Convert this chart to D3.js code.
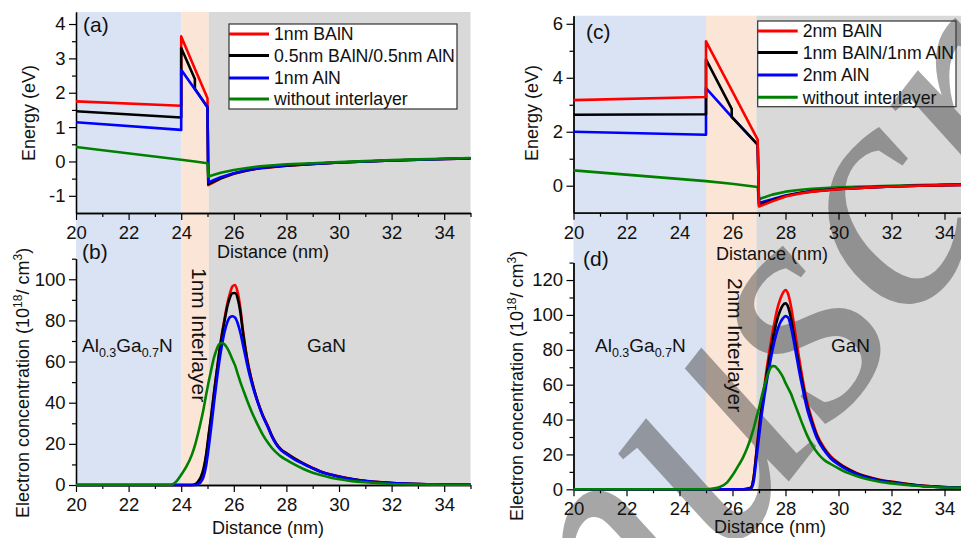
<!DOCTYPE html>
<html><head><meta charset="utf-8">
<script src="https://cdn.jsdelivr.net/npm/d3@7"></script>
<style>
body{margin:0;background:#fff;}
svg{display:block;font-family:"Liberation Sans",Arial,sans-serif;}
</style></head><body>
<svg id="c" width="961" height="538"></svg>
<script>
// ---------------- data ----------------
const seriesNamesA = ["1nm BAlN", "0.5nm BAlN/0.5nm AlN", "1nm AlN", "without interlayer"];
const seriesNamesC = ["2nm BAlN", "1nm BAlN/1nm AlN", "2nm AlN", "without interlayer"];
const regionsL = [20, 24, 25.05, 35];
const regionsR = [20, 25, 26.9, 35];
const xTicks = [20, 22, 24, 26, 28, 30, 32, 34];
const xMinor = [21, 23, 25, 27, 29, 31, 33, 35];
const yTicksA = [-1, 0, 1, 2, 3, 4];
const yMinorA = [-0.5, 0.5, 1.5, 2.5, 3.5];
const yTicksB = [0, 20, 40, 60, 80, 100];
const yMinorB = [10, 30, 50, 70, 90, 110];
const yTicksC = [0, 2, 4, 6];
const yMinorC = [1, 3, 5];
const yTicksD = [0, 20, 40, 60, 80, 100, 120];
const yMinorD = [10, 30, 50, 70, 90, 110, 130];

// (a) conduction band, 1 nm interlayer
const xA = [20, 24, 24, 24.52, 24.52, 25, 25.03, 25.5, 26, 26.5, 27, 28, 29, 30, 31, 32, 33, 34, 35];
const eRedA   = [1.75, 1.62, 3.64, 2.70, 2.70, 1.84, -0.69, -0.50, -0.36, -0.26, -0.20, -0.12, -0.07, -0.03, 0.00, 0.03, 0.05, 0.07, 0.09];
const eBlackA = [1.46, 1.28, 3.30, 2.40, 2.12, 1.58, -0.66, -0.49, -0.35, -0.26, -0.19, -0.12, -0.07, -0.03, 0.00, 0.03, 0.05, 0.07, 0.09];
const eBlueA  = [1.14, 0.92, 2.67, 2.10, 2.10, 1.58, -0.61, -0.46, -0.34, -0.25, -0.19, -0.11, -0.07, -0.03, 0.00, 0.03, 0.05, 0.07, 0.09];
const eGreenA = [0.42, 0.05, 0.05, 0.00, 0.00, -0.05, -0.44, -0.33, -0.25, -0.19, -0.14, -0.08, -0.05, -0.02, 0.01, 0.04, 0.06, 0.08, 0.10];

// (c) conduction band, 2 nm interlayer
const xC = [20, 25, 25, 25.97, 25.97, 26.95, 27.0, 27.5, 28, 28.5, 29, 30, 31, 32, 33, 34, 35];
const eRedC   = [3.17, 3.29, 5.35, 3.54, 3.54, 1.71, -0.77, -0.58, -0.40, -0.30, -0.22, -0.13, -0.07, -0.03, 0.00, 0.02, 0.04];
const eBlackC = [2.63, 2.65, 4.68, 2.85, 2.55, 1.52, -0.72, -0.55, -0.38, -0.28, -0.21, -0.12, -0.07, -0.03, 0.00, 0.02, 0.04];
const eBlueC  = [2.00, 1.89, 3.62, 2.55, 2.55, 1.52, -0.64, -0.50, -0.36, -0.27, -0.20, -0.12, -0.07, -0.03, 0.00, 0.02, 0.04];
const eGreenC = [0.57, 0.17, 0.17, 0.07, 0.07, -0.05, -0.50, -0.33, -0.22, -0.16, -0.11, -0.06, -0.03, 0.00, 0.02, 0.04, 0.06];

// (b) electron concentration, 1 nm interlayer
const xB = [20, 23.6, 23.8, 24.0, 24.2, 24.4, 24.55, 24.65, 24.75, 24.85, 24.95, 25.05, 25.15, 25.25, 25.35, 25.45, 25.55, 25.65, 25.75, 25.85, 25.95, 26.05, 26.15, 26.25, 26.35, 26.5, 26.6, 26.75, 26.9, 27.1, 27.3, 27.45, 27.6, 27.8, 28.0, 28.3, 28.65, 29.0, 29.3, 29.9, 30.5, 31.0, 32.0, 33.0, 34.0, 35.0];
const nRedB   = [0, 0, 0, 0, 0, 0, 0.3, 1.2, 3, 7, 14, 24.5, 34, 45, 55, 65, 73.5, 81, 88, 93, 96.5, 97.2, 93.5, 86, 75, 62, 55.5, 47.5, 41, 34, 28.5, 24, 20.5, 17.3, 15.5, 13, 10.5, 8.3, 6.6, 4.5, 2.9, 2.0, 1.0, 0.5, 0.3, 0.2];
const nBlackB = [0, 0, 0, 0, 0, 0, 0.5, 1.8, 4, 8, 15, 25, 34.5, 45, 55, 64.5, 73, 80, 86.5, 91, 93.2, 93.3, 90.5, 84, 74, 61.5, 55, 47.3, 40.8, 33.8, 28.3, 23.8, 20.3, 17.2, 15.4, 12.9, 10.4, 8.2, 6.5, 4.4, 2.85, 1.95, 1.0, 0.5, 0.3, 0.2];
const nBlueB  = [0, 0, 0, 0, 0, 0, 0, 0.5, 1.5, 4, 9.5, 18.5, 29, 40, 50.5, 60, 68, 74.5, 79, 81.5, 82, 81.3, 78.5, 74, 68, 59, 53.5, 46.5, 40.5, 33.5, 28, 23.5, 20, 16.8, 15, 12.5, 10.2, 8.1, 6.4, 4.3, 2.8, 1.9, 0.9, 0.45, 0.25, 0.15];
const nGreenB = [0, 0, 1.5, 5, 9, 14.5, 20.5, 25.5, 31, 37, 44, 50.5, 56.5, 62, 66, 68.5, 69, 68.3, 66.5, 64, 61, 58, 54, 50, 46.5, 41.3, 38, 33.5, 29.5, 24.5, 20.5, 18, 16, 13.8, 12.2, 10, 7.8, 6, 4.9, 3.0, 1.9, 1.3, 0.5, 0.25, 0.15, 0.1];

// (d) electron concentration, 2 nm interlayer
const xD = [20, 24.8, 25.2, 25.5, 25.8, 26.0, 26.2, 26.4, 26.55, 26.7, 26.8, 26.9, 27.0, 27.1, 27.2, 27.3, 27.4, 27.5, 27.6, 27.7, 27.8, 27.9, 28.0, 28.1, 28.2, 28.3, 28.4, 28.5, 28.65, 28.8, 29.0, 29.2, 29.45, 29.7, 30.0, 30.35, 30.7, 31.1, 31.6, 32.0, 32.9, 33.8, 35.0];
const nRedD   = [0, 0, 0, 0, 0, 0, 0, 0, 0.2, 1.0, 7, 21, 35, 48, 59, 70, 80, 89, 97, 104, 109, 112.5, 114.3, 112, 105.5, 96.5, 86.5, 76.5, 63, 51, 40, 31, 24, 19, 15.2, 11.8, 9.3, 7.2, 5.3, 4.4, 2.5, 1.5, 0.8];
const nBlackD = [0, 0, 0, 0, 0, 0, 0, 0, 0.3, 1.0, 7, 20.5, 34, 46.5, 57, 67, 76, 84.5, 92, 98, 102.5, 105.5, 106.6, 104.5, 98.5, 90, 81, 72, 60, 49, 38.5, 30, 23.3, 18.5, 14.8, 11.5, 9.0, 7.0, 5.1, 4.2, 2.4, 1.4, 0.8];
const nBlueD  = [0, 0, 0, 0, 0, 0, 0, 0, 0.1, 0.5, 4.5, 17, 30, 42.5, 53, 62.5, 71, 79, 86, 91.5, 95.5, 98, 99.3, 98.5, 93.5, 86, 77.5, 69, 57.5, 47, 37, 28.8, 22.5, 17.8, 14.2, 11.0, 8.6, 6.6, 4.8, 4.0, 2.2, 1.3, 0.7];
const nGreenD = [0, 0, 0.3, 1.2, 4, 8, 13, 18.3, 23.5, 30, 35, 41, 46.5, 53, 59, 64.5, 68.5, 70.7, 70.5, 69, 67, 64.5, 61, 58, 55, 51, 47, 43, 37, 31.5, 25.5, 21, 17, 14.5, 12, 9.4, 7.5, 5.8, 4.2, 3.4, 2.0, 1.2, 0.7];

// ---------------- drawing ----------------
const colors = ["#ff0000", "#000000", "#0000ff", "#008000"];
const shadeColors = ["#dae3f3", "#fbe5d6", "#d9d9d9"];
const FONT = '"Liberation Sans", Arial, sans-serif';

const svg = d3.select("#c");
const defs = svg.append("defs");
const gBg = svg.append("g");
const gLegBox = svg.append("g");
const gWm = svg.append("g");
const gAx = svg.append("g");
const gLines = svg.append("g");
const gTxt = svg.append("g");

const xL = d3.scaleLinear([20, 35], [76, 470.5]);
const xR = d3.scaleLinear([20, 35], [573.5, 971]);
const yA = d3.scaleLinear([-1.5, 4.35], [213, 12]);
const yB = d3.scaleLinear([0, 110], [485, 258.7]);
const yC = d3.scaleLinear([-1, 6.3], [212.7, 15.7]);
const yD = d3.scaleLinear([0, 130], [489.3, 262.6]);

function shade(x, bounds, top, bottom) {
  for (let i = 0; i < 3; i++) {
    gBg.append("rect")
      .attr("x", x(bounds[i])).attr("width", x(bounds[i + 1]) - x(bounds[i]))
      .attr("y", top).attr("height", bottom - top).attr("fill", shadeColors[i]);
  }
}
shade(xL, regionsL, yA.range()[1], yB.range()[0]);
shade(xR, regionsR, yC.range()[1], yD.range()[0]);

function styleAxis(g, fs) {
  g.select("path.domain").attr("stroke", "#000").attr("stroke-width", 1.3);
  g.selectAll(".tick line").attr("stroke", "#000").attr("stroke-width", 1.2);
  g.selectAll(".tick text").attr("font-size", fs).attr("font-family", FONT).attr("fill", "#111");
}
function axes(x, y, yTicks, yMinor) {
  const y0 = y.range()[0];
  const gxm = gAx.append("g").attr("transform", `translate(0,${y0})`)
    .call(d3.axisBottom(x).tickValues(xMinor).tickSize(4).tickSizeOuter(0).tickFormat(""));
  styleAxis(gxm, 18.5);
  const gx = gAx.append("g").attr("transform", `translate(0,${y0})`)
    .call(d3.axisBottom(x).tickValues(xTicks).tickSize(7).tickSizeOuter(0).tickPadding(6).tickFormat(d => String(d)));
  styleAxis(gx, 18.5);
  const x0 = x.range()[0];
  const gym = gAx.append("g").attr("transform", `translate(${x0},0)`)
    .call(d3.axisLeft(y).tickValues(yMinor).tickSize(4).tickSizeOuter(0).tickFormat(""));
  styleAxis(gym, 18.5);
  const gy = gAx.append("g").attr("transform", `translate(${x0},0)`)
    .call(d3.axisLeft(y).tickValues(yTicks).tickSize(7).tickSizeOuter(0).tickPadding(3.5).tickFormat(d => String(d)));
  styleAxis(gy, 18.5);
}
axes(xL, yA, yTicksA, yMinorA);
axes(xL, yB, yTicksB, yMinorB);
axes(xR, yC, yTicksC, yMinorC);
axes(xR, yD, yTicksD, yMinorD);

let clipId = 0;
function drawSeries(x, y, xs, list, curve, order) {
  const id = "clip" + (clipId++);
  defs.append("clipPath").attr("id", id).append("rect")
    .attr("x", x.range()[0]).attr("y", y.range()[1])
    .attr("width", x.range()[1] - x.range()[0]).attr("height", y.range()[0] - y.range()[1] + 3);
  const g = gLines.append("g").attr("clip-path", `url(#${id})`);
  const line = d3.line().x(d => x(d[0])).y(d => y(d[1])).curve(curve);
  order.forEach(i => {
    const pts = xs.map((v, k) => [v, list[i][k]]);
    g.append("path").attr("d", line(pts)).attr("fill", "none")
      .attr("stroke", colors[i]).attr("stroke-width", 2.6)
      .attr("stroke-linejoin", "round").attr("stroke-linecap", "round");
  });
}
drawSeries(xL, yA, xA, [eRedA, eBlackA, eBlueA, eGreenA], d3.curveLinear, [0, 1, 2, 3]);
drawSeries(xR, yC, xC, [eRedC, eBlackC, eBlueC, eGreenC], d3.curveLinear, [3, 2, 1, 0]);
drawSeries(xL, yB, xB, [nRedB, nBlackB, nBlueB, nGreenB], d3.curveMonotoneX, [0, 1, 2, 3]);
drawSeries(xR, yD, xD, [nRedD, nBlackD, nBlueD, nGreenD], d3.curveMonotoneX, [0, 1, 2, 3]);

// legends
function legend(x0, y0, w, h, rows, labels) {
  gLegBox.append("rect").attr("x", x0).attr("y", y0).attr("width", w).attr("height", h)
    .attr("fill", "#fff").attr("stroke", "#333").attr("stroke-width", 1.2);
  labels.forEach((t, i) => {
    gTxt.append("line").attr("x1", x0).attr("x2", x0 + 40).attr("y1", rows[i]).attr("y2", rows[i])
      .attr("stroke", colors[i]).attr("stroke-width", 3);
    gTxt.append("text").attr("x", x0 + 45).attr("y", rows[i] + 6.3).attr("font-size", 17.7)
      .attr("fill", "#111").text(t);
  });
}
legend(229, 24, 228, 85, [34, 55.5, 78, 99], seriesNamesA);
legend(757.7, 21, 198.3, 85.7, [31, 52.5, 75, 97.3], seriesNamesC);

// texts
function txt(x, y, s, fs, anchor, rot) {
  const t = gTxt.append("text").attr("font-size", fs).attr("fill", "#111")
    .attr("text-anchor", anchor || "start");
  if (rot) t.attr("transform", `translate(${x},${y}) rotate(${rot})`);
  else t.attr("x", x).attr("y", y);
  t.text(s);
  return t;
}
txt(83, 32.3, "(a)", 21);
txt(586, 39, "(c)", 21);
txt(82, 259, "(b)", 21);
txt(583, 265.6, "(d)", 21);
txt(273, 258, "Distance (nm)", 18, "middle");
txt(772, 259.5, "Distance (nm)", 18, "middle");
txt(268, 533.5, "Distance (nm)", 18, "middle");
txt(770, 532.5, "Distance (nm)", 18, "middle");
txt(34.5, 113, "Energy (eV)", 18, "middle", -90);
txt(538, 113, "Energy (eV)", 18, "middle", -90);

function concLabel(x, y) {
  const t = gTxt.append("text").attr("font-size", 18).attr("fill", "#111")
    .attr("transform", `translate(${x},${y}) rotate(-90)`);
  t.append("tspan").text("Electron concentration (10");
  t.append("tspan").attr("font-size", 12).attr("dy", -7).text("18");
  t.append("tspan").attr("dy", 7).text("/ cm");
  t.append("tspan").attr("font-size", 12).attr("dy", -7).text("3");
  t.append("tspan").attr("dy", 7).text(")");
}
concLabel(28.5, 518);
concLabel(523, 521);

function alganLabel(x, y) {
  const t = gTxt.append("text").attr("font-size", 19).attr("fill", "#111").attr("x", x).attr("y", y);
  t.append("tspan").text("Al");
  t.append("tspan").attr("font-size", 12.5).attr("dy", 5).text("0.3");
  t.append("tspan").attr("dy", -5).text("Ga");
  t.append("tspan").attr("font-size", 12.5).attr("dy", 5).text("0.7");
  t.append("tspan").attr("dy", -5).text("N");
}
alganLabel(82, 352);
alganLabel(595, 352);
txt(307, 352, "GaN", 19);
txt(831, 352, "GaN", 19);
txt(192, 268, "1nm Interlayer", 21, "start", 90);
txt(728, 278, "2nm Interlayer", 21, "start", 90);

// watermark (partially visible, as in the reference page)
gWm.append("text").attr("transform", "translate(354,1038) rotate(-52)")
  .attr("font-family", '"Liberation Serif", "Times New Roman", serif')
  .attr("font-style", "italic").attr("font-size", 330)
  .attr("fill", "#3a3a3a").attr("fill-opacity", 0.45).text("Manuscript");
</script>
</body></html>
